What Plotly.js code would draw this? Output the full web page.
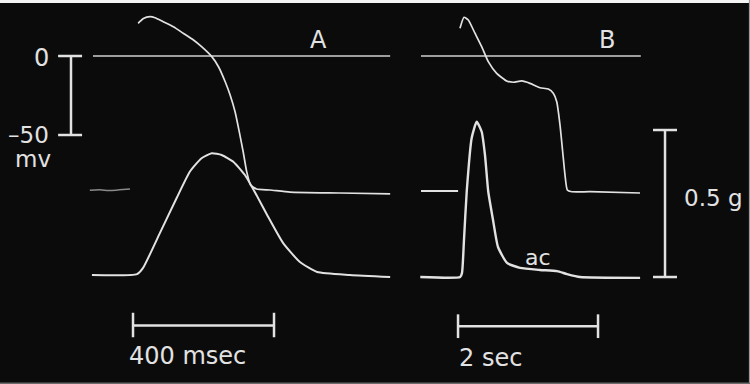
<!DOCTYPE html>
<html>
<head>
<meta charset="utf-8">
<script src="https://cdn.plot.ly/plotly-3.0.1.min.js"></script>
<style>html,body{margin:0;padding:0;background:#0b0b0b;}#chart{width:750px;height:384px;}</style>
</head>
<body>
<div id="chart"></div>
<script>
// ---- Panel A (time in ms, membrane potential in mV, tension in g) ----
const apA_t = [128,134,143,162,176,199,228,256,285,308,337,356,375,389,403,415,426,436,447,464,502,559,701,843];
const apA_v = [20.7,22.0,23.8,24.9,24.2,21.7,18.5,14.4,10.1,5.9,-0.4,-6.8,-16.3,-24.7,-35.3,-48.0,-60.6,-73.2,-81.6,-84.2,-84.8,-86.1,-86.7,-87.3];
const restA_t = [-9,20,45,75,105];
const restA_v = [-85,-84.6,-85.2,-84.7,-84.2];
const tenA_t = [-3,125,142,190,237,275,308,337,365,398,431,465,494,539,587,636,729,843];
const tenA_g = [0.007,0.010,0.031,0.150,0.268,0.359,0.404,0.421,0.415,0.392,0.347,0.276,0.211,0.116,0.051,0.017,0.007,0.000];
const zeroA_t = [0,843];

// ---- Panel B (time in s) ----
const restB_t = [0,0.53];
const restB_v = [-85.4,-85.4];
const apB_t = [0.557,0.614,0.676,0.771,0.867,0.961,1.081,1.224,1.319,1.439,1.557,1.700,1.819,1.890,1.939,1.986,2.024,2.057,2.090,2.153,2.414,3.129];
const apB_v = [17.5,24.5,22.8,14.4,5.9,-3.6,-11.0,-15.8,-16.6,-15.8,-17.3,-20.1,-20.9,-23.6,-28.9,-43.7,-60.6,-75.3,-84.8,-85.9,-85.9,-86.7];
const tenB_t = [-0.01,0.56,0.586,0.614,0.653,0.724,0.796,0.867,0.914,0.961,1.029,1.10,1.229,1.414,1.70,1.943,2.086,2.271,3.13];
const tenB_g = [0,0,0.014,0.126,0.290,0.473,0.528,0.494,0.415,0.290,0.194,0.102,0.048,0.031,0.024,0.020,0.010,0,-0.003];
const zeroB_t = [0,3.14];

// ---- Calibration bars and labels ----
const mvBar = [0,-50];          // mV
const msBar = [0,400];          // ms
const secBar = [0,2];           // s
const gBar = [0,0.5];           // g
const labels = {zero:"0", minus50:"–50", mv:"mv", A:"A", B:"B", g:"0.5 g", ac:"ac", ms:"400 msec", sec:"2 sec"};

const FG = '#e2e2e2';
function line(x,y,xa,ya,opts){
  return Object.assign({x:x,y:y,xaxis:xa,yaxis:ya,mode:'lines',type:'scatter',
    line:{color:FG,width:2,shape:'spline',smoothing:0.5},hoverinfo:'skip',showlegend:false},opts||{});
}
const bar = {color:FG,width:2.5};
const msStart = 113.5, sec0 = 0.529, mvBarT = -62.4, gBarT = 3.486;
const traces = [
  line(zeroA_t,[0,0],'x','y',{line:{color:'#cfcfcf',width:1.5}}),
  line(zeroB_t,[0,0],'x2','y',{line:{color:'#cfcfcf',width:1.5}}),
  line(restA_t,restA_v,'x','y',{line:{color:'#8a8a8a',width:1.5,shape:'spline'}}),
  line(apA_t,apA_v,'x','y',{line:{color:FG,width:1.7,shape:'spline',smoothing:0.5}}),
  line(tenA_t,tenA_g,'x','y2'),
  line(restB_t,restB_v,'x2','y'),
  line(apB_t,apB_v,'x2','y',{line:{color:FG,width:1.7,shape:'spline',smoothing:0.5}}),
  line(tenB_t,tenB_g,'x2','y2',{line:{color:FG,width:2.4,shape:'spline',smoothing:0.5}}),
  // mV calibration bar
  line([mvBarT,mvBarT],mvBar,'x','y',{line:bar}),
  line([-99,-31],[mvBar[0],mvBar[0]],'x','y',{line:bar}),
  line([-99,-31],[mvBar[1],mvBar[1]],'x','y',{line:bar}),
  // 400 ms bar
  line([msStart+msBar[0],msStart+msBar[1]],[-170.5,-170.5],'x','y',{line:bar}),
  line([msStart+msBar[0],msStart+msBar[0]],[-162.5,-178],'x','y',{line:bar}),
  line([msStart+msBar[1],msStart+msBar[1]],[-162.5,-178],'x','y',{line:bar}),
  // 2 sec bar
  line([sec0+secBar[0],sec0+secBar[1]],[-171,-171],'x2','y',{line:bar}),
  line([sec0+secBar[0],sec0+secBar[0]],[-163.5,-178.5],'x2','y',{line:bar}),
  line([sec0+secBar[1],sec0+secBar[1]],[-163.5,-178.5],'x2','y',{line:bar}),
  // 0.5 g bar
  line([gBarT,gBarT],gBar,'x2','y2',{line:bar}),
  line([3.314,3.657],[gBar[0],gBar[0]],'x2','y2',{line:bar}),
  line([3.314,3.657],[gBar[1],gBar[1]],'x2','y2',{line:bar})
];

const F = {family:'DejaVu Sans, sans-serif', size:23, color:FG};
function ann(text,x,y,xref,yref,xanchor,size){
  return {text:text,x:x,y:y,xref:xref,yref:yref,showarrow:false,xanchor:xanchor||'center',yanchor:'middle',
    borderpad:0,font:Object.assign({},F,size?{size:size}:{})};
}
const annotations = [
  ann(labels.zero,-145,-1.3,'x','y','center',24),
  ann(labels.minus50,-122,-49.8,'x','y','right',23),
  ann(labels.mv,-170,-65.5,'x','y','center',23),
  ann(labels.A,639,10.1,'x','y','center',24),
  ann(labels.B,2.657,10.1,'x2','y','center',24),
  ann(labels.g,3.743,0.27,'x2','y2','left',23),
  ann(labels.ac,1.67,0.065,'x2','y2','center',22),
  ann(labels.ms,269,-190,'x','y','center',24),
  ann(labels.sec,0.99,-191,'x2','y','center',24)
];

const layout = {
  width:750,height:384,margin:{l:0,r:0,t:0,b:0},
  paper_bgcolor:'#0b0b0b',plot_bgcolor:'#0b0b0b',showlegend:false,
  xaxis:{range:[-263.83,1863.83],visible:false,fixedrange:true,domain:[0,1]},
  xaxis2:{range:[-6.0143,4.7],visible:false,overlaying:'x',fixedrange:true},
  yaxis:{range:[-207.59,35.44],visible:false,fixedrange:true,domain:[0,1]},
  yaxis2:{range:[-0.3639,0.9422],visible:false,overlaying:'y',fixedrange:true},
  annotations:annotations,
  shapes:[
    {type:'rect',xref:'paper',yref:'paper',x0:0,x1:1,y0:0.992,y1:1,fillcolor:'#f4f4f4',line:{width:0}},
    {type:'rect',xref:'paper',yref:'paper',x0:0.9985,x1:1,y0:0,y1:1,fillcolor:'#9a9a9a',line:{width:0}},
    {type:'rect',xref:'paper',yref:'paper',x0:0,x1:1,y0:0,y1:0.004,fillcolor:'#6a6a6a',line:{width:0}}
  ]
};
Plotly.newPlot('chart',traces,layout,{staticPlot:true,displayModeBar:false});
</script>
</body>
</html>
